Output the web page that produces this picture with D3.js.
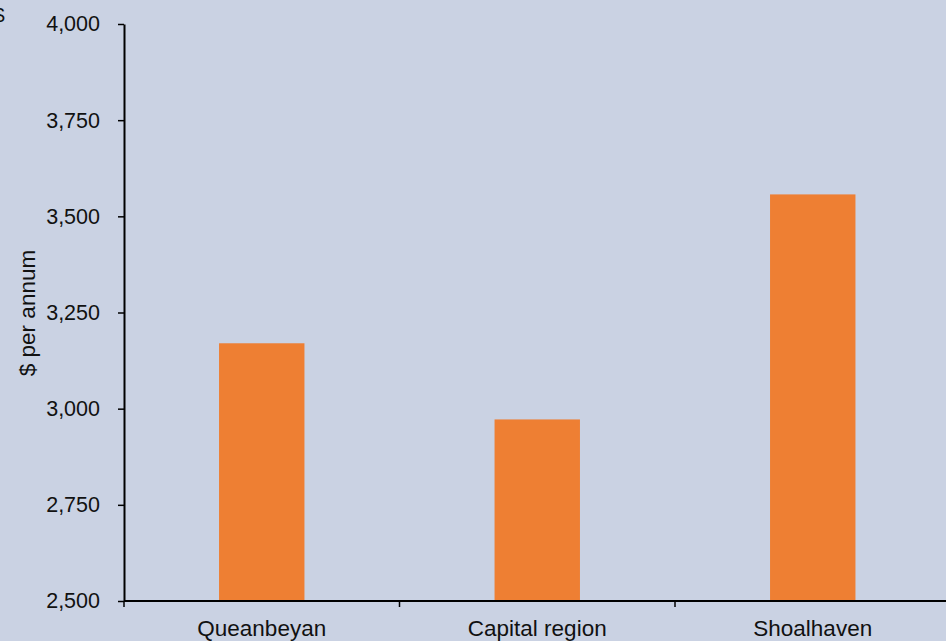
<!DOCTYPE html>
<html>
<head>
<meta charset="utf-8">
<script src="https://cdn.jsdelivr.net/npm/d3@7"></script>
<style>
  html, body { margin: 0; padding: 0; background: #cad2e3; overflow: hidden; }
  svg { display: block; font-family: "Liberation Sans", Arial, sans-serif; }
</style>
</head>
<body>
<div id="plot"></div>
<script>
// data
const regions = ["Queanbeyan", "Capital region", "Shoalhaven"];
const costs = [3170, 2972, 3557];
const yTicks = [2500, 2750, 3000, 3250, 3500, 3750, 4000];

window.addEventListener("load", main);

function main(){
  const width = 946, height = 641;
  const left = 124, top = 24, bottom = 601, right = 950.5;

  let svg = d3.select("#plot").append("svg")
    .attr("width", width)
    .attr("height", height);

  svg.append("rect")
    .attr("width", width).attr("height", height)
    .attr("fill", "#cad2e3");

  let y = d3.scaleLinear().domain([2500, 4000]).range([bottom, top]);
  let x = d3.scaleBand().domain(regions).range([left, right])
    .paddingInner(0.69).paddingOuter(0.345);

  // bars
  svg.append("g")
    .selectAll("rect")
    .data(regions)
    .join("rect")
    .attr("x", d => x(d))
    .attr("width", x.bandwidth())
    .attr("y", (d, i) => y(costs[i]))
    .attr("height", (d, i) => bottom - y(costs[i]))
    .attr("fill", "#ee7f33");

  // y axis
  let yAxis = svg.append("g")
    .attr("transform", "translate(" + left + ",0)")
    .call(d3.axisLeft(y).tickValues(yTicks).tickSize(6).tickPadding(18)
      .tickFormat(d3.format(",")).tickSizeOuter(0));
  yAxis.select(".domain").attr("stroke", "#000").attr("stroke-width", 2);
  yAxis.selectAll(".tick line").attr("stroke", "#000").attr("stroke-width", 1.5);
  yAxis.selectAll(".tick text")
    .attr("font-size", 21.5).attr("fill", "#111")
    .attr("font-family", "Liberation Sans, Arial, sans-serif");

  // x axis: ticks between categories
  let step = x.step();
  let xBounds = d3.range(regions.length + 1).map(i => left + i * step);
  let xAxis = svg.append("g");
  xAxis.append("line")
    .attr("x1", left).attr("x2", width + 2)
    .attr("y1", bottom).attr("y2", bottom)
    .attr("stroke", "#000").attr("stroke-width", 2);
  xAxis.selectAll("line.tk")
    .data(xBounds)
    .join("line")
    .attr("class", "tk")
    .attr("x1", d => d).attr("x2", d => d)
    .attr("y1", bottom).attr("y2", bottom + 6)
    .attr("stroke", "#000").attr("stroke-width", 1.5);
  xAxis.selectAll("text")
    .data(regions)
    .join("text")
    .attr("x", d => x(d) + x.bandwidth() / 2)
    .attr("y", 636)
    .attr("text-anchor", "middle")
    .attr("font-size", 22.5)
    .attr("fill", "#111")
    .text(d => d);

  // axis title
  svg.append("text")
    .attr("transform", "translate(35,313) rotate(-90)")
    .attr("text-anchor", "middle")
    .attr("font-size", 22.5)
    .attr("fill", "#111")
    .text("$ per annum");

  // clipped unit marker at top-left corner, as in the source image
  svg.append("text")
    .attr("x", -7).attr("y", 22)
    .attr("font-size", 21)
    .attr("fill", "#111")
    .text("$");
}
</script>
</body>
</html>
